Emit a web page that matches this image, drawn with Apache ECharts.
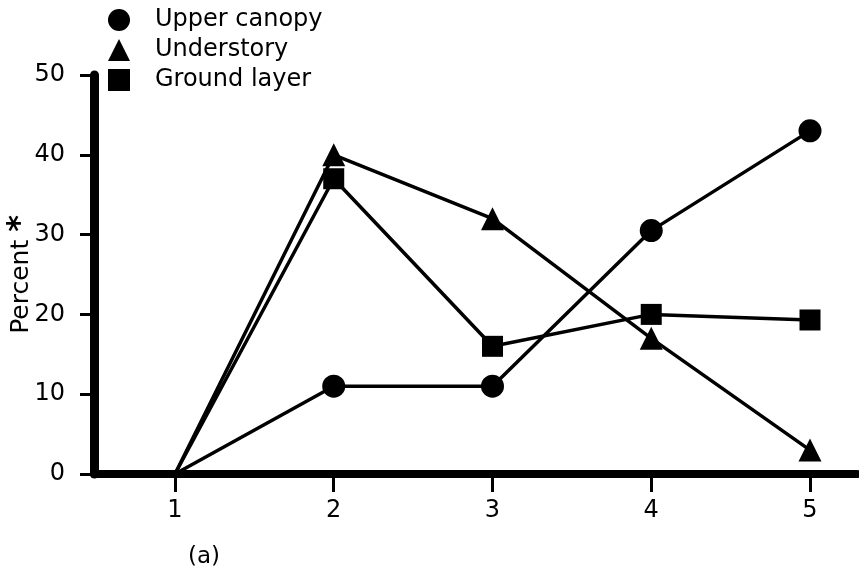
<!DOCTYPE html>
<html>
<head>
<meta charset="utf-8">
<script src="https://cdn.jsdelivr.net/npm/echarts@6/dist/echarts.min.js"></script>
<style>html,body{margin:0;padding:0;background:#fff;}#c{width:859px;height:570px;}</style>
</head>
<body>
<div id="c"></div>
<script>
const xValues = [1, 2, 3, 4, 5];
const xTicks = [1, 2, 3, 4, 5];
const upperCanopy = [0, 11, 11, 30.5, 43];
const understory = [0, 40, 32, 17, 3];
const groundLayer = [0, 37, 16, 20, 19.3];
const seriesNames = ['Upper canopy', 'Understory', 'Ground layer'];

const FONT = 'DejaVu Sans';
// points lying on the zero baseline are hidden under the axis in the original
const pair = arr => arr.map((v, i) => v === 0
  ? {value: [xValues[i], v], symbol: 'none'}
  : {value: [xValues[i], v]});

const chart = echarts.init(document.getElementById('c'), null, {renderer: 'canvas'});
const lineCommon = {
  type: 'line',
  lineStyle: {color: '#000', width: 3.5},
  itemStyle: {color: '#000'},
  z: 5
};
chart.setOption({
  backgroundColor: '#fff',
  animation: false,
  title: {
    text: '(a)', left: 183, top: 541,
    textStyle: {fontFamily: FONT, fontSize: 23, fontWeight: 'normal', color: '#000'}
  },
  legend: {
    orient: 'vertical', left: 103, top: 3,
    itemWidth: 22, itemHeight: 22, itemGap: 6,
    data: [
      {name: seriesNames[0], icon: 'circle'},
      {name: seriesNames[1], icon: 'triangle'},
      {name: seriesNames[2], icon: 'rect'}
    ],
    textStyle: {fontFamily: FONT, fontSize: 24, color: '#000', padding: [0, 0, 0, 20]}
  },
  grid: {left: 94, right: 2, top: 75, bottom: 96, containLabel: false, outerBoundsMode: 'none'},
  xAxis: {
    type: 'value', min: 0.49, max: 5.296,
    axisLine: {show: true, onZero: false, lineStyle: {color: '#000', width: 8}},
    axisTick: {show: true, customValues: xTicks, length: 18, lineStyle: {color: '#000', width: 3}},
    axisLabel: {customValues: xTicks, margin: 25, fontFamily: FONT, fontSize: 24, color: '#000'},
    splitLine: {show: false}
  },
  yAxis: {
    type: 'value', min: 0, max: 50, interval: 10,
    name: 'Percent {a|*}', nameLocation: 'middle', nameGap: 57, nameMoveOverlap: false,
    nameTextStyle: {fontFamily: FONT, fontSize: 25, color: '#000',
      rich: {a: {fontFamily: FONT, fontSize: 32, fontWeight: 'bold', color: '#000'}}},
    axisLine: {show: true, lineStyle: {color: '#000', width: 9}},
    axisTick: {show: true, length: 14, lineStyle: {color: '#000', width: 3}},
    axisLabel: {margin: 29, fontFamily: FONT, fontSize: 24, color: '#000'},
    splitLine: {show: false}
  },
  series: [
    Object.assign({name: seriesNames[0], data: pair(upperCanopy), symbol: 'circle', symbolSize: 23}, lineCommon),
    Object.assign({name: seriesNames[1], data: pair(understory), symbol: 'triangle', symbolSize: 23}, lineCommon),
    Object.assign({name: seriesNames[2], data: pair(groundLayer), symbol: 'rect', symbolSize: 21}, lineCommon)
  ]
});
</script>
</body>
</html>
